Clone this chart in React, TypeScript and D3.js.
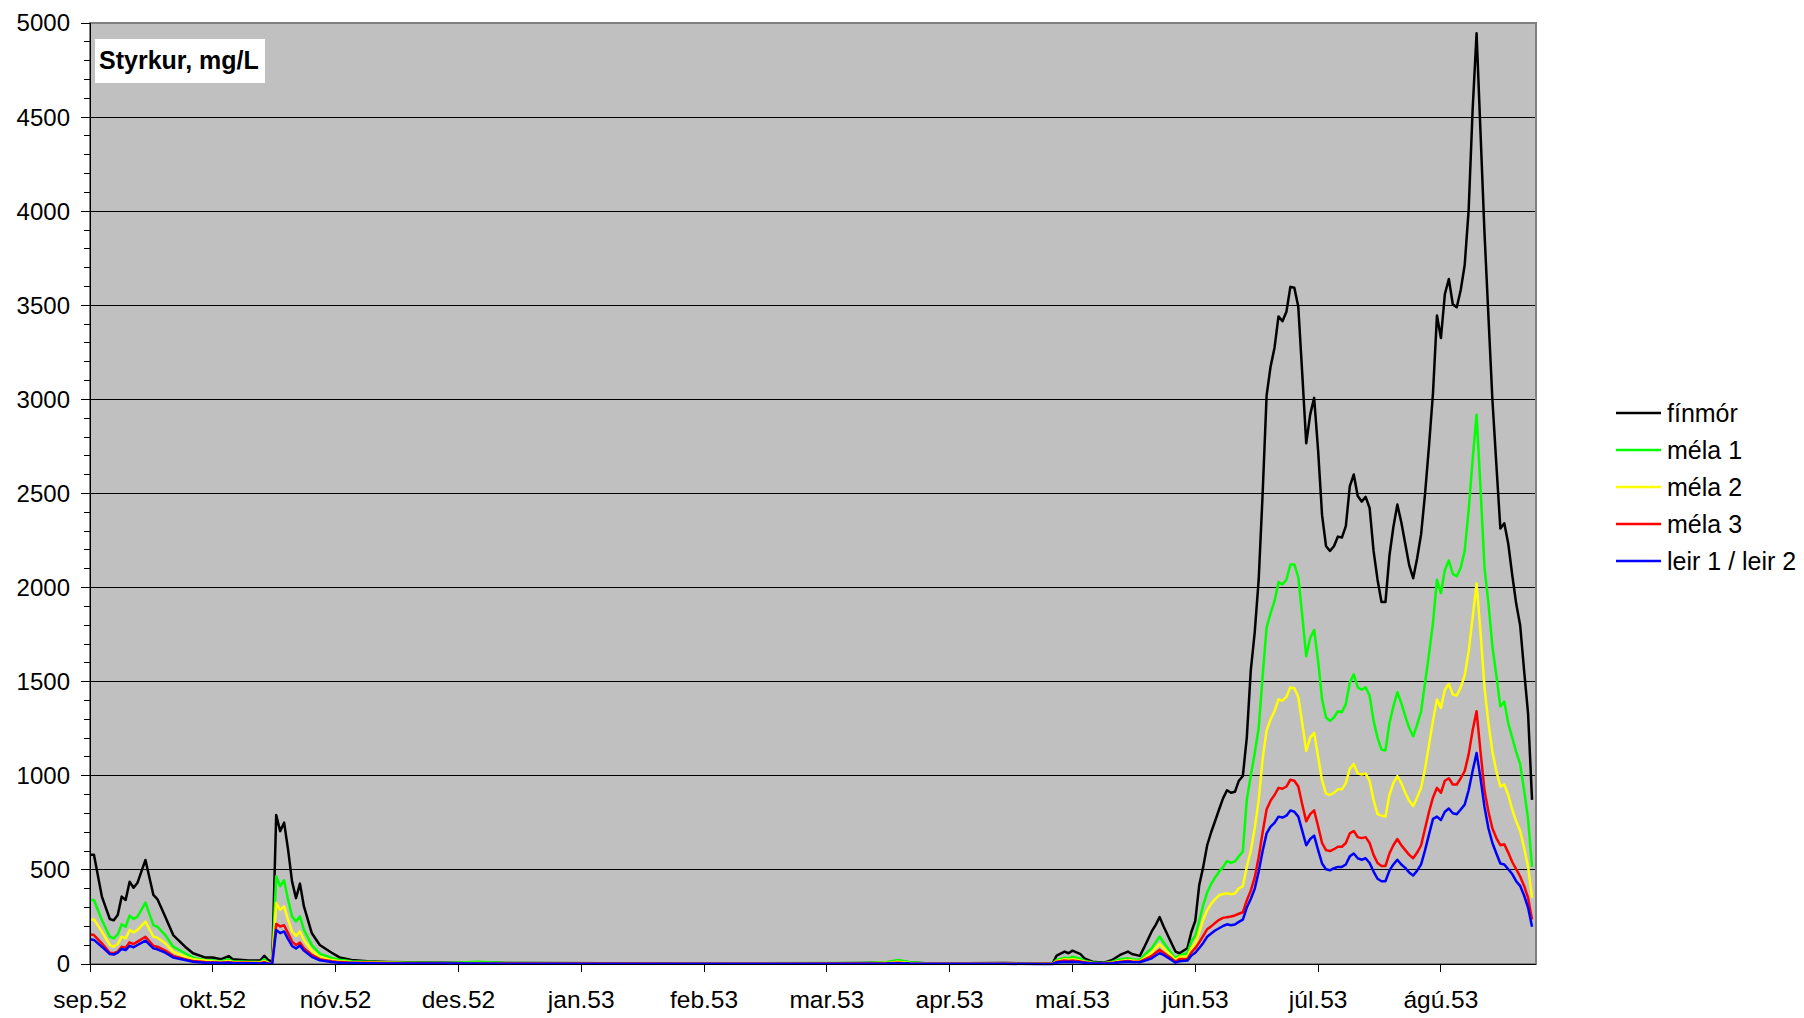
import React from 'react'
import * as d3 from 'd3'

// day index from 1 Sep 1952 (Excel category axis, ticks every 31 days)
const days = [
  0, 1, 3, 5, 6, 7, 8, 9, 10, 11, 12, 14, 16, 17, 19, 21, 24, 26, 29, 31, 33, 35, 36, 40, 43, 44, 45, 46,
  47, 48, 49, 50, 51, 52, 53, 54, 56, 58, 61, 63, 66, 70, 75, 80, 90, 98, 105, 130, 160, 188, 195, 201, 204, 207, 212, 231, 240,
  243, 244, 246, 247, 248, 250, 251, 253, 256, 258, 260, 262, 263, 265, 266, 268, 269, 270, 271, 273, 274, 275, 277, 278, 279, 280, 281, 282, 283, 284, 285, 286,
  287, 288, 289, 290, 291, 292, 293, 294, 295, 296, 297, 298, 299, 300, 301, 302, 303, 304, 305, 306, 307, 308, 309, 310,
  311, 312, 313, 314, 315, 316, 317, 318, 319, 320, 321, 322, 323, 324, 325, 326, 327, 328, 329, 330, 331, 332, 333, 334,
  335, 336, 337, 338, 339, 340, 341, 342, 343, 344, 345, 346, 347, 348, 349, 350, 351, 352, 353, 354, 355, 356, 357, 358,
  359, 360, 361, 362, 363, 364
]

const finmor = [
  581, 581, 358, 239, 232, 260, 358, 340, 437, 405, 432, 553, 367, 345, 251, 154, 92, 57, 35, 35, 25, 42, 25, 18, 18, 44, 21, 12,
  792, 706, 751, 608, 439, 350, 427, 306, 163, 101, 60, 35, 21, 14, 11, 9, 6, 8, 5, 4, 3, 4, 5, 8, 18, 8, 3, 5, 2,
  3, 45, 66, 57, 71, 53, 30, 12, 7, 21, 48, 66, 53, 43, 84, 173, 208, 249, 199, 110, 66, 57, 84, 170, 230, 420, 516, 631, 700, 760, 821, 880,
  923, 910, 915, 974, 999, 1203, 1559, 1762, 2042, 2500, 3021, 3174, 3275, 3441, 3415, 3466, 3598, 3593, 3492, 3136, 2767, 2919, 3008, 2729,
  2385, 2220, 2195, 2220, 2271, 2266, 2327, 2538, 2601, 2487, 2457, 2482, 2423, 2195, 2042, 1923, 1923, 2169, 2322, 2441, 2347, 2233, 2118, 2050,
  2156, 2284, 2500, 2754, 3034, 3446, 3326, 3560, 3640, 3505, 3490, 3581, 3714, 4006, 4538, 4945, 4415, 3884, 3438, 2997, 2652, 2314, 2342, 2233,
  2067, 1915, 1800, 1559, 1330, 872
]

const mela1 = [
  340, 340, 234, 145, 136, 157, 211, 198, 257, 239, 252, 326, 207, 198, 154, 92, 57, 34, 21, 18, 14, 25, 14, 12, 11, 25, 7, 4,
  466, 413, 445, 342, 253, 226, 253, 181, 100, 55, 32, 22, 15, 12, 9, 7, 5, 12, 5, 4, 3, 5, 5, 9, 21, 9, 3, 4, 2,
  2, 22, 33, 30, 39, 28, 18, 8, 4, 12, 25, 30, 25, 21, 45, 84, 115, 146, 114, 57, 30, 46, 57, 120, 150, 230, 313, 380, 425, 460, 490, 515,
  547, 537, 545, 572, 598, 872, 1000, 1120, 1254, 1530, 1788, 1864, 1928, 2029, 2017, 2042, 2123, 2123, 2055, 1851, 1635, 1732, 1775, 1610,
  1406, 1310, 1292, 1310, 1343, 1338, 1381, 1495, 1539, 1470, 1457, 1470, 1427, 1292, 1203, 1139, 1134, 1279, 1368, 1444, 1386, 1317, 1254, 1210,
  1272, 1343, 1495, 1648, 1813, 2042, 1971, 2093, 2144, 2073, 2060, 2106, 2195, 2411, 2678, 2919, 2525, 2106, 1915, 1686, 1533, 1368, 1394, 1279,
  1203, 1127, 1063, 923, 771, 516
]

const mela2 = [
  237, 237, 172, 101, 92, 106, 145, 136, 181, 168, 181, 225, 145, 140, 110, 66, 39, 25, 18, 14, 11, 16, 11, 9, 8, 15, 5, 3,
  324, 288, 306, 235, 173, 149, 173, 128, 70, 38, 22, 15, 11, 9, 7, 5, 4, 5, 3, 3, 2, 3, 3, 6, 12, 5, 2, 2, 1,
  1, 15, 25, 22, 25, 18, 12, 5, 4, 8, 16, 21, 18, 15, 30, 60, 85, 105, 84, 43, 21, 38, 39, 85, 110, 170, 236, 285, 320, 345, 365, 372,
  376, 371, 375, 402, 414, 516, 600, 720, 872, 1090, 1241, 1300, 1343, 1406, 1399, 1419, 1470, 1465, 1419, 1279, 1132, 1203, 1228, 1101,
  974, 905, 898, 910, 928, 928, 961, 1038, 1063, 1012, 1007, 1012, 974, 872, 796, 788, 783, 898, 961, 999, 961, 910, 867, 839,
  885, 936, 1038, 1165, 1292, 1406, 1361, 1457, 1488, 1432, 1427, 1470, 1533, 1661, 1839, 2022, 1762, 1470, 1279, 1127, 1025, 943, 954, 898,
  821, 758, 707, 618, 516, 351
]

const mela3 = [
  158, 154, 110, 60, 57, 66, 92, 87, 115, 106, 119, 145, 96, 92, 71, 43, 25, 16, 11, 9, 7, 10, 7, 6, 5, 10, 3, 2,
  213, 199, 206, 164, 119, 101, 114, 84, 48, 26, 15, 10, 7, 6, 5, 4, 3, 3, 2, 2, 1, 2, 2, 4, 7, 3, 1, 1, 1,
  1, 12, 18, 16, 18, 13, 9, 4, 3, 6, 12, 16, 13, 12, 22, 43, 60, 75, 60, 30, 12, 27, 27, 62, 84, 115, 150, 185, 200, 218, 235, 245,
  249, 252, 258, 267, 275, 338, 390, 460, 567, 700, 821, 868, 898, 936, 931, 943, 979, 974, 943, 847, 758, 796, 816, 732,
  643, 605, 600, 610, 623, 623, 643, 694, 707, 674, 669, 674, 643, 580, 537, 521, 521, 587, 631, 664, 631, 605, 580, 562,
  592, 631, 720, 809, 885, 936, 910, 974, 987, 954, 954, 987, 1025, 1114, 1241, 1343, 1127, 923, 809, 720, 669, 631, 636, 592,
  542, 504, 465, 415, 351, 236
]

const leir = [
  131, 128, 92, 53, 50, 60, 80, 74, 96, 89, 101, 124, 83, 78, 60, 35, 21, 12, 7, 6, 5, 7, 5, 4, 3, 6, 2, 1,
  181, 164, 173, 132, 96, 82, 98, 71, 38, 20, 11, 7, 5, 4, 3, 3, 2, 2, 1, 1, 1, 1, 1, 2, 4, 2, 1, 1, 0,
  0, 8, 12, 11, 12, 9, 6, 3, 2, 4, 9, 12, 10, 9, 16, 30, 45, 57, 48, 21, 7, 14, 18, 45, 60, 85, 112, 145, 162, 178, 190, 202,
  211, 206, 210, 224, 236, 300, 345, 400, 491, 600, 694, 730, 750, 783, 778, 788, 816, 809, 783, 707, 631, 664, 682, 605,
  534, 503, 498, 509, 516, 516, 529, 572, 587, 562, 554, 562, 537, 491, 453, 440, 440, 496, 529, 554, 529, 511, 486, 470,
  496, 529, 605, 689, 771, 783, 765, 809, 826, 801, 796, 821, 847, 923, 1025, 1121, 987, 834, 720, 643, 587, 534, 529, 503,
  478, 440, 415, 364, 300, 198
]

const seriesNames = ['fínmór', 'méla 1', 'méla 2', 'méla 3', 'leir 1 / leir 2']
const seriesColors = ['#000000', '#00ff00', '#ffff00', '#ff0000', '#0000ff']
const seriesValues = [finmor, mela1, mela2, mela3, leir]

const monthLabels = ['sep.52', 'okt.52', 'nóv.52', 'des.52', 'jan.53', 'feb.53', 'mar.53', 'apr.53', 'maí.53', 'jún.53', 'júl.53', 'ágú.53']
const monthTickDays = [0, 31, 62, 93, 124, 155, 186, 217, 248, 279, 310, 341]
const yTicks = d3.range(0, 5001, 500)
const yMinor = d3.range(0, 5001, 100)

const FONT = '"Liberation Sans", Arial, sans-serif'

export default function App() {
  const left = 90, right = 1536, top = 23, bottom = 964
  const x = d3.scaleLinear().domain([0, 365]).range([left, right])
  const y = d3.scaleLinear().domain([0, 5000]).range([bottom, top])

  const line = d3.line<number>()
    .x((d, i) => x(days[i]))
    .y(d => y(d))

  return (
    <div style={{ position: 'absolute', left: 0, top: 0 }}>
      <svg width={1804} height={1018} style={{ display: 'block', background: '#fff' }}>
        <rect x={left} y={top} width={right - left} height={bottom - top} fill='#c0c0c0' />
        {yTicks.slice(1, -1).map(t => (
          <line key={'g' + t} x1={left} x2={right} y1={y(t)} y2={y(t)} stroke='#000' strokeWidth={1} shapeRendering='crispEdges' />
        ))}
        <rect x={left} y={top} width={right - left} height={bottom - top} fill='none' stroke='#808080' strokeWidth={2} />

        {seriesValues.map((vals, k) => (
          <path key={seriesNames[k]} d={line(vals) || ''} fill='none' stroke={seriesColors[k]} strokeWidth={2.5} strokeLinejoin='round' />
        ))}

        {/* axes */}
        <line x1={left} x2={left} y1={top} y2={bottom} stroke='#000' strokeWidth={1} shapeRendering='crispEdges' />
        <line x1={left} x2={right} y1={bottom} y2={bottom} stroke='#000' strokeWidth={1} shapeRendering='crispEdges' />
        {yMinor.map(t => (
          <line key={'m' + t} x1={left - 6} x2={left} y1={y(t)} y2={y(t)} stroke='#000' shapeRendering='crispEdges' />
        ))}
        {yTicks.map(t => (
          <g key={'y' + t}>
            <line x1={left - 9} x2={left} y1={y(t)} y2={y(t)} stroke='#000' shapeRendering='crispEdges' />
            <text x={70} y={y(t)} dy='0.35em' textAnchor='end' fontFamily={FONT} fontSize={24}>{t}</text>
          </g>
        ))}
        {monthTickDays.map((d, i) => (
          <g key={'x' + d}>
            <line x1={x(d)} x2={x(d)} y1={bottom} y2={bottom + 8} stroke='#000' shapeRendering='crispEdges' />
            <text x={x(d)} y={1008} textAnchor='middle' fontFamily={FONT} fontSize={24.5}>{monthLabels[i]}</text>
          </g>
        ))}

        {/* title box */}
        <rect x={95} y={39} width={170} height={44} fill='#fff' />
        <text x={99} y={69} fontFamily={FONT} fontSize={25} fontWeight='bold'>Styrkur, mg/L</text>

        {/* legend */}
        {seriesNames.map((n, k) => (
          <g key={'l' + n} transform={`translate(1616, ${413 + k * 37})`}>
            <line x1={0} x2={45} y1={0} y2={0} stroke={seriesColors[k]} strokeWidth={2.5} />
            <text x={51} y={0} dy='0.35em' fontFamily={FONT} fontSize={25}>{n}</text>
          </g>
        ))}
      </svg>
    </div>
  )
}
